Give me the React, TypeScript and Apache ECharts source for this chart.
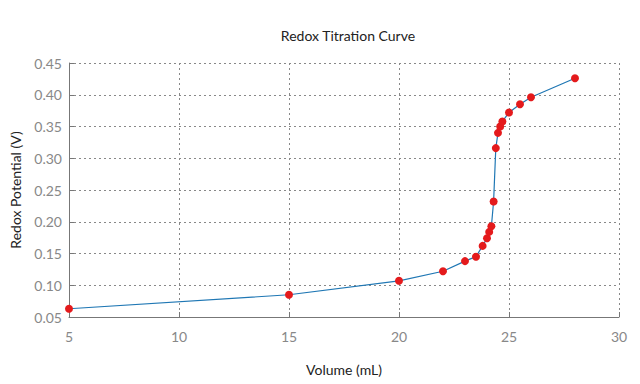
import React, { useEffect, useRef } from "react";
import * as echarts from "echarts";

const volumes = [5, 15, 20, 22, 23, 23.5, 23.8, 24, 24.1, 24.2, 24.3, 24.4, 24.5, 24.6, 24.7, 25, 25.5, 26, 28];
const potentials = [0.063, 0.085, 0.107, 0.122, 0.138, 0.145, 0.162, 0.174, 0.184, 0.193, 0.232, 0.316, 0.340, 0.350, 0.358, 0.372, 0.385, 0.396, 0.426];

const FONT = "Lato, 'Noto Sans', sans-serif";

export default function App() {
  const ref = useRef<HTMLDivElement>(null);
  useEffect(() => {
    if (!ref.current) return;
    const chart = echarts.init(ref.current, undefined, { renderer: "svg" });
    const data = volumes.map((v, i) => [v, potentials[i]]);
    chart.setOption({
      animation: false,
      backgroundColor: "#ffffff",
      title: {
        text: "Redox Titration Curve",
        left: 343,
        top: 23,
        textAlign: "center",
        textStyle: { fontFamily: FONT, fontSize: 14, fontWeight: "normal", color: "#222" },
      },
      grid: { left: 67, right: 21, top: 63, bottom: 67 },
      xAxis: {
        type: "value",
        min: 5,
        max: 30,
        interval: 5,
        name: "Volume (mL)",
        nameLocation: "middle",
        nameGap: 45,
        nameTextStyle: { fontFamily: FONT, fontSize: 14, color: "#222" },
        axisLine: { show: true, lineStyle: { color: "#777", width: 1 } },
        axisTick: { show: true, inside: true, length: 5, lineStyle: { color: "#777" } },
        axisLabel: { fontFamily: FONT, fontSize: 14, color: "#888", margin: 12 },
        splitLine: { show: true, lineStyle: { type: [2, 3], color: "#888", width: 1 } },
      },
      yAxis: {
        type: "value",
        min: 0.05,
        max: 0.45,
        interval: 0.05,
        name: "Redox Potential (V)",
        nameLocation: "middle",
        nameGap: 47,
        nameTextStyle: { fontFamily: FONT, fontSize: 14, color: "#222" },
        axisLine: { show: true, lineStyle: { color: "#777", width: 1 } },
        axisTick: { show: true, inside: true, length: 5, lineStyle: { color: "#777" } },
        axisLabel: {
          fontFamily: FONT,
          fontSize: 14,
          color: "#888",
          margin: 7,
          formatter: (v: number) => v.toFixed(2),
        },
        splitLine: { show: true, lineStyle: { type: [2, 3], color: "#888", width: 1 } },
      },
      series: [
        {
          type: "line",
          data,
          symbol: "circle",
          symbolSize: 8,
          showSymbol: true,
          lineStyle: { color: "#1f77b4", width: 1.2 },
          itemStyle: { color: "#e41a1c", borderWidth: 0 },
        },
      ],
    });
    return () => chart.dispose();
  }, []);
  return <div ref={ref} style={{ width: 640, height: 384, position: "absolute", left: 0, top: 0 }} />;
}
